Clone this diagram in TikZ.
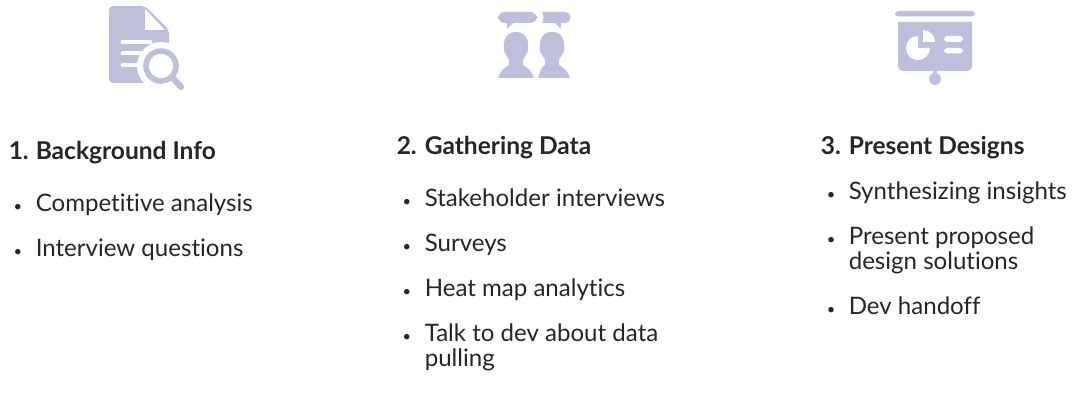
\documentclass[tikz,border=0pt]{standalone}
\usepackage{fontspec}
\setmainfont{Lato}[Ligatures=NoCommon]
\definecolor{iconblue}{HTML}{BEBFDB}
\definecolor{inkdark}{HTML}{262626}
\tikzset{
    headtxt/.style={anchor=base west,inner sep=0pt,text=inkdark,font=\fontsize{18.4}{19}\selectfont\bfseries},
    itemtxt/.style={anchor=base west,inner sep=0pt,text=inkdark,font=\fontsize{18.05}{19}\selectfont},
    dotmark/.style={anchor=base,inner sep=0pt,text=inkdark,font=\fontsize{11}{19}\selectfont},
    iconfill/.style={fill=iconblue,draw=none},
    iconcut/.style={fill=white,draw=none}
}
\begin{document}
\begin{tikzpicture}[x=0.75pt,y=-0.75pt]
    \useasboundingbox (0,0) rectangle (1079,413);
    % document icon
    \fill[iconfill,rounded corners=3] (109,6) -- (145,6) -- (169,30) -- (169,83) -- (109,83) -- cycle;
    \fill[iconcut,line join=round] (145,9) -- (145,30) -- (165,30) -- cycle;
    \foreach \y in {42,53,65}{
        \draw[white,line width=3.6,line cap=round] (123,\y) -- (150,\y);
    }
    \fill[iconcut] (161,66) circle (24);
    \draw[iconblue,line width=4.2] (161,66) circle (15);
    \draw[iconblue,line width=4.6,line cap=round] (172,77) -- (181,87);
    % people icon
    \fill[iconfill,rounded corners=5] (498,12) rectangle (537,23);
    \fill[iconfill] (507,22) -- (507,29) -- (514,22) -- cycle;
    \fill[iconfill] (542,12) -- (565,12) arc (-90:90:5.5) -- (542,23) .. controls (544,20) and (544,15) .. (542,12) -- cycle;
    \fill[iconfill] (554,22) -- (561,29) -- (561,22) -- cycle;
    \foreach \cx/\lx/\rx in {516/498/534,552/538/570}{
        \fill[iconfill] (\cx,32) .. controls (\cx+9,32) and (\cx+13,39) .. (\cx+12,48)
            .. controls (\cx+13,52) and (\cx+10,54) .. (\cx+7,60)
            -- (\cx+7,65) .. controls (\cx+12,68) and (\rx-3,70) .. (\rx,78)
            -- (\lx,78) .. controls (\lx+3,70) and (\cx-12,68) .. (\cx-7,65)
            -- (\cx-7,60) .. controls (\cx-10,54) and (\cx-13,52) .. (\cx-12,48)
            .. controls (\cx-13,39) and (\cx-9,32) .. (\cx,32) -- cycle;
    }
    % screen icon
    \fill[iconfill,rounded corners=2.5] (895,11) rectangle (975,16.5);
    \fill[iconfill] (898,22) -- (972,22) -- (972,66) arc (0:90:5) -- (903,71) arc (90:180:5) -- cycle;
    \fill[iconfill] (933,70) rectangle (937,76);
    \fill[iconfill] (935,79) circle (6);
    \fill[iconcut] (918,48) -- (918,36) arc (-90:-360:12) -- cycle;
    \fill[iconcut] (923,42) -- (923,30) arc (-90:0:12) -- cycle;
    \fill[iconcut,rounded corners=2.5] (944,36) rectangle (963,42);
    \fill[iconcut,rounded corners=2.5] (944,48) rectangle (963,53.5);
    % first column
    \node[headtxt] (num1) at (8.5,160) {1.};
    \node[headtxt] (head1) at (35.5,160) {Background Info};
    \foreach \nm/\y/\txt in {a/212/Competitive analysis,b/257/Interview questions}{
        \node[dotmark] (dot1\nm) at (18,\y) {•};
        \node[itemtxt] (item1\nm) at (35.5,\y) {\txt};
    }
    % second column
    \node[headtxt] (num2) at (396.5,155) {2.};
    \node[headtxt] (head2) at (424.5,155) {Gathering Data};
    \foreach \nm/\y/\txt in {a/207/Stakeholder interviews,b/252/Surveys,c/297/Heat map analytics,d/342/Talk to dev about data}{
        \node[dotmark] (dot2\nm) at (407,\y) {•};
        \node[itemtxt] (item2\nm) at (424.5,\y) {\txt};
    }
    \node[itemtxt] (item2e) at (424.5,367) {pulling};
    % third column
    \node[headtxt] (num3) at (820.5,155) {3.};
    \node[headtxt] (head3) at (848.5,155) {Present Designs};
    \foreach \nm/\y/\txt in {a/200/Synthesizing insights,b/245/Present proposed,c/315/Dev handoff}{
        \node[dotmark] (dot3\nm) at (831,\y) {•};
        \node[itemtxt] (item3\nm) at (848.5,\y) {\txt};
    }
    \node[itemtxt] (item3d) at (848.5,270) {design solutions};
\end{tikzpicture}
\end{document}
